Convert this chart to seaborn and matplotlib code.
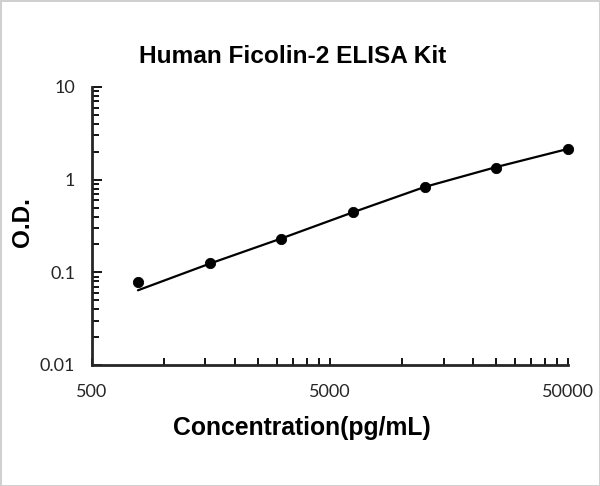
import numpy as np
import pandas as pd
import seaborn as sns
import matplotlib
matplotlib.use('Agg')
import matplotlib.pyplot as plt
from matplotlib.ticker import FixedLocator, FuncFormatter, NullFormatter

sns.set_style('ticks')
plt.rcParams['font.family'] = ['Liberation Sans', 'DejaVu Sans']

# standard points (pg/mL) and measured O.D.
conc = [781.25, 1562.5, 3125, 6250, 12500, 25000, 50000]
od = [0.079, 0.125, 0.229, 0.449, 0.842, 1.35, 2.15]

# fitted curve
fit_conc = [781.25, 1562.5, 3125, 6250, 12500, 25000, 50000]
fit_od = [0.064, 0.124, 0.232, 0.445, 0.835, 1.37, 2.15]

x_major = [500, 5000, 50000]
y_major = [0.01, 0.1, 1, 10]

pts = pd.DataFrame({'conc': conc, 'od': od})
fit = pd.DataFrame({'conc': fit_conc, 'od': fit_od})

fig = plt.figure(figsize=(6, 4.86), dpi=100)
ax = fig.add_axes([0.153, 0.249, 0.794, 0.572])

sns.lineplot(data=fit, x='conc', y='od', color='black', linewidth=1.6, ax=ax)
sns.scatterplot(data=pts, x='conc', y='od', color='black', s=55, edgecolor='black',
                zorder=3, clip_on=False, ax=ax)

ax.set_xscale('log')
ax.set_yscale('log')
ax.set_xlim(500, 50000)
ax.set_ylim(0.01, 10)

# Excel-style minor ticks at multiples of the axis start
x_minor = [b * k for b in (500, 5000) for k in range(2, 10)]
y_minor = [b * k for b in (0.01, 0.1, 1) for k in range(2, 10)]
ax.xaxis.set_major_locator(FixedLocator(x_major))
ax.xaxis.set_minor_locator(FixedLocator(x_minor))
ax.yaxis.set_major_locator(FixedLocator(y_major))
ax.yaxis.set_minor_locator(FixedLocator(y_minor))
fmt = FuncFormatter(lambda v, p: '{:g}'.format(v))
ax.xaxis.set_major_formatter(fmt)
ax.yaxis.set_major_formatter(fmt)
ax.xaxis.set_minor_formatter(NullFormatter())
ax.yaxis.set_minor_formatter(NullFormatter())

ax.tick_params(axis='both', which='both', direction='in', width=1.3, color='black')
ax.tick_params(axis='x', which='both', length=5, pad=14)
ax.tick_params(axis='y', which='major', length=7, pad=12)
ax.tick_params(axis='y', which='minor', length=5)
for lab in ax.get_xticklabels() + ax.get_yticklabels():
    lab.set_family(['Lato', 'DejaVu Sans'])
    lab.set_fontsize(13)

sns.despine(ax=ax)
for s in ('left', 'bottom'):
    ax.spines[s].set_linewidth(2)
ax.set_xlabel('')
ax.set_ylabel('')

fig.text(0.487, 0.883, 'Human Ficolin-2 ELISA Kit', ha='center', va='center',
         fontsize=17.6, fontweight='bold', color='black')
fig.text(0.503, 0.119, 'Concentration(pg/mL)', ha='center', va='center',
         fontsize=17.8, fontweight='bold', color='black')
fig.text(0.038, 0.543, 'O.D.', ha='center', va='center', rotation=90,
         fontsize=17.5, fontweight='bold', color='black')

fig.patch.set_edgecolor('#d0d0d0')
fig.patch.set_linewidth(2)

fig.savefig('out.png', dpi=100)
